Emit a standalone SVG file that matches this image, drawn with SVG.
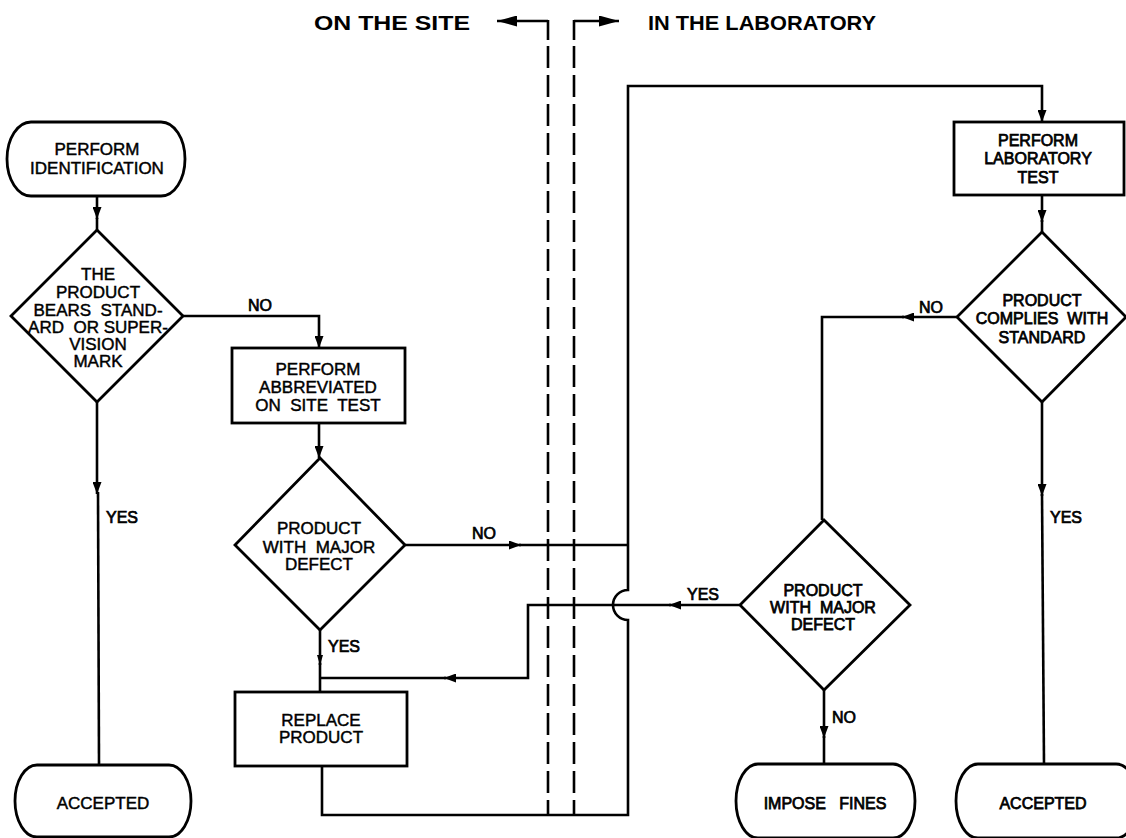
<svg xmlns="http://www.w3.org/2000/svg" width="1126" height="838" viewBox="0 0 1126 838">
<defs>
<style>
.s{fill:#fff;stroke:#000;stroke-width:2.8}
.c{fill:none;stroke:#000;stroke-width:2.6}
.d{fill:none;stroke:#000;stroke-width:2.6;stroke-dasharray:22 7}
.t{font-family:"Liberation Sans",Arial,sans-serif;font-size:17px;text-anchor:middle;fill:#000;stroke:#000;stroke-width:0.45}
.tb{font-family:"Liberation Sans",Arial,sans-serif;font-size:16px;text-anchor:middle;fill:#000;stroke:#000;stroke-width:0.75}
.l{font-family:"Liberation Sans",Arial,sans-serif;font-size:16px;fill:#000;stroke:#000;stroke-width:0.7}
.h{font-family:"Liberation Sans",Arial,sans-serif;font-size:21px;font-weight:bold;fill:#000}
</style>
<marker id="a" viewBox="0 0 12 9" refX="12" refY="4.5" markerWidth="12" markerHeight="9" markerUnits="userSpaceOnUse" orient="auto"><path d="M0,0 L12,4.5 L0,9 Z" fill="#000"/></marker>
<marker id="as" viewBox="0 0 10 6" refX="10" refY="3" markerWidth="10" markerHeight="6" markerUnits="userSpaceOnUse" orient="auto"><path d="M0,0 L10,3 L0,6 Z" fill="#000"/></marker>
<marker id="ah" viewBox="0 0 20 11" refX="20" refY="5.5" markerWidth="20" markerHeight="11" markerUnits="userSpaceOnUse" orient="auto"><path d="M0,0 L20,5.5 L0,11 Z" fill="#000"/></marker>
</defs>

<g id="header">
<text class="h" x="314" y="30" textLength="156" lengthAdjust="spacingAndGlyphs">ON  THE  SITE</text>
<text class="h" x="648" y="30" textLength="228" lengthAdjust="spacingAndGlyphs">IN  THE  LABORATORY</text>
<path class="c" d="M548,21 H497" marker-end="url(#ah)"/>
<path class="c" d="M574,21 H619" marker-end="url(#ah)"/>
<path class="c" d="M548,20 V40"/>
<path class="c" d="M574,20 V40"/>
<path class="d" d="M548,46 V815"/>
<path class="d" d="M574,46 V815"/>
</g>

<g id="connectors">
<path class="c" d="M97,196 V219" marker-end="url(#a)"/>
<path class="c" d="M97,218 V230"/>
<path class="c" d="M183,316 H319 V348" marker-end="url(#a)"/>
<path class="c" d="M97,402 V494" marker-end="url(#a)"/>
<path class="c" d="M98,492 L99,765"/>
<path class="c" d="M319,423 V458" marker-end="url(#a)"/>
<path class="c" d="M405,545 H521" marker-end="url(#a)"/>
<path class="c" d="M519,545 H628"/>
<path class="c" d="M320,630 V665" marker-end="url(#as)"/>
<path class="c" d="M320,663 V692"/>
<path class="c" d="M740,605 H669" marker-end="url(#a)"/>
<path class="c" d="M671,605 H528 V678 H444" marker-end="url(#a)"/>
<path class="c" d="M446,678 H320"/>
<path class="c" d="M322,766 V815 H628 V620 A15,15 0 0 1 628,590 V86 H1042 V122" marker-end="url(#a)"/>
<path class="c" d="M1042,195 V222" marker-end="url(#a)"/>
<path class="c" d="M1042,220 V232"/>
<path class="c" d="M957,317 H902" marker-end="url(#a)"/>
<path class="c" d="M904,317 H822 V520"/>
<path class="c" d="M1042,402 V496" marker-end="url(#a)"/>
<path class="c" d="M1042,494 L1044,764"/>
<path class="c" d="M824,690 V738" marker-end="url(#a)"/>
<path class="c" d="M824,736 V764"/>
<text class="l" x="248" y="311">NO</text>
<text class="l" x="106" y="523">YES</text>
<text class="l" x="472" y="539">NO</text>
<text class="l" x="328" y="652">YES</text>
<text class="l" x="687" y="600">YES</text>
<text class="l" x="919" y="313">NO</text>
<text class="l" x="1050" y="523">YES</text>
<text class="l" x="832" y="723">NO</text>
</g>

<g id="n1">
<path class="s" d="M31,122 H161 A24,37 0 0 1 161,196 H31 A24,37 0 0 1 31,122 Z"/>
<text class="t" x="97" y="155">PERFORM</text>
<text class="t" x="97" y="174">IDENTIFICATION</text>
</g>

<g id="n2">
<path class="s" d="M97,230 L183,316 L97,402 L11,316 Z"/>
<text class="t" x="98" y="280">THE</text>
<text class="t" x="98" y="298">PRODUCT</text>
<text class="t" x="98" y="316" xml:space="preserve">BEARS  STAND-</text>
<text class="t" x="98" y="333" xml:space="preserve">ARD  OR SUPER-</text>
<text class="t" x="98" y="350">VISION</text>
<text class="t" x="98" y="367">MARK</text>
</g>

<g id="n3">
<rect class="s" x="232" y="348" width="173" height="75"/>
<text class="t" x="318" y="375">PERFORM</text>
<text class="t" x="318" y="393">ABBREVIATED</text>
<text class="t" x="318" y="411" xml:space="preserve">ON  SITE  TEST</text>
</g>

<g id="n4">
<path class="s" d="M320,458 L405,545 L320,630 L235,545 Z"/>
<text class="t" x="319" y="534">PRODUCT</text>
<text class="t" x="319" y="553" xml:space="preserve">WITH  MAJOR</text>
<text class="t" x="319" y="570">DEFECT</text>
</g>

<g id="n5">
<rect class="s" x="235" y="692" width="172" height="74"/>
<text class="t" x="321" y="726">REPLACE</text>
<text class="t" x="321" y="743">PRODUCT</text>
</g>

<g id="n6">
<path class="s" d="M37,765 H169 A22,36 0 0 1 169,837 H37 A22,36 0 0 1 37,765 Z"/>
<text class="t" x="103" y="809">ACCEPTED</text>
</g>

<g id="n7">
<rect class="s" x="954" y="122" width="170" height="73"/>
<text class="tb" x="1038" y="146">PERFORM</text>
<text class="tb" x="1038" y="164">LABORATORY</text>
<text class="tb" x="1038" y="183">TEST</text>
</g>

<g id="n8">
<path class="s" d="M1042,232 L1126,317 L1042,402 L957,317 Z"/>
<text class="tb" x="1042" y="306">PRODUCT</text>
<text class="tb" x="1042" y="324" xml:space="preserve">COMPLIES  WITH</text>
<text class="tb" x="1042" y="343">STANDARD</text>
</g>

<g id="n9">
<path class="s" d="M824,520 L910,605 L824,690 L740,605 Z"/>
<text class="tb" x="823" y="596">PRODUCT</text>
<text class="tb" x="823" y="613" xml:space="preserve">WITH  MAJOR</text>
<text class="tb" x="823" y="630">DEFECT</text>
</g>

<g id="n10">
<path class="s" d="M758,764 H893 A22,37 0 0 1 893,838 H758 A22,37 0 0 1 758,764 Z"/>
<text class="tb" x="825" y="809" xml:space="preserve">IMPOSE   FINES</text>
</g>

<g id="n11">
<path class="s" d="M978,764 H1116 A22,37 0 0 1 1116,838 H978 A22,37 0 0 1 978,764 Z"/>
<text class="tb" x="1043" y="809">ACCEPTED</text>
</g>
</svg>
